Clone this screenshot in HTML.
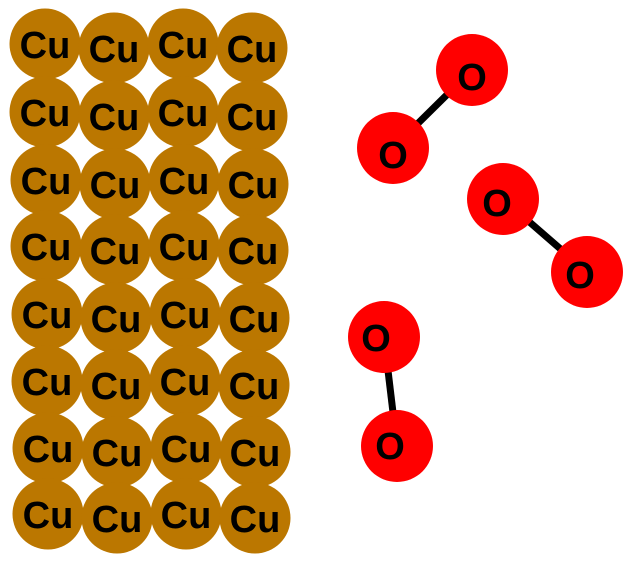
<!DOCTYPE html>
<html><head><style>body{margin:0;background:#fff}</style></head><body>
<svg width="633" height="563" xmlns="http://www.w3.org/2000/svg" font-family="Liberation Sans, Arial, sans-serif" font-weight="bold">
<g fill="#bb7700">
<circle cx="45" cy="44" r="35.5"/><circle cx="114" cy="48" r="35.5"/><circle cx="183" cy="44" r="35.5"/><circle cx="252" cy="48" r="35.5"/>
<circle cx="45" cy="112" r="35.5"/><circle cx="114" cy="116" r="35.5"/><circle cx="183" cy="112" r="35.5"/><circle cx="252" cy="116" r="35.5"/>
<circle cx="46" cy="180" r="35.5"/><circle cx="115" cy="184" r="35.5"/><circle cx="184" cy="180" r="35.5"/><circle cx="253" cy="184" r="35.5"/>
<circle cx="46" cy="246" r="35.5"/><circle cx="115" cy="250" r="35.5"/><circle cx="184" cy="246" r="35.5"/><circle cx="253" cy="250" r="35.5"/>
<circle cx="47" cy="314" r="35.5"/><circle cx="116" cy="318" r="35.5"/><circle cx="185" cy="314" r="35.5"/><circle cx="254" cy="318" r="35.5"/>
<circle cx="47" cy="381" r="35.5"/><circle cx="116" cy="385" r="35.5"/><circle cx="185" cy="381" r="35.5"/><circle cx="254" cy="385" r="35.5"/>
<circle cx="48" cy="448" r="35.5"/><circle cx="117" cy="452" r="35.5"/><circle cx="186" cy="448" r="35.5"/><circle cx="255" cy="452" r="35.5"/>
<circle cx="48" cy="514" r="35.5"/><circle cx="117" cy="518" r="35.5"/><circle cx="186" cy="514" r="35.5"/><circle cx="255" cy="518" r="35.5"/>
</g>
<g font-size="38" font-weight="bold" text-anchor="middle" fill="#000">
<text x="45" y="58">Cu</text><text x="114" y="62">Cu</text><text x="183" y="58">Cu</text><text x="252" y="62">Cu</text>
<text x="45" y="126">Cu</text><text x="114" y="130">Cu</text><text x="183" y="126">Cu</text><text x="252" y="130">Cu</text>
<text x="46" y="194">Cu</text><text x="115" y="198">Cu</text><text x="184" y="194">Cu</text><text x="253" y="198">Cu</text>
<text x="46" y="260">Cu</text><text x="115" y="264">Cu</text><text x="184" y="260">Cu</text><text x="253" y="264">Cu</text>
<text x="47" y="328">Cu</text><text x="116" y="332">Cu</text><text x="185" y="328">Cu</text><text x="254" y="332">Cu</text>
<text x="47" y="395">Cu</text><text x="116" y="399">Cu</text><text x="185" y="395">Cu</text><text x="254" y="399">Cu</text>
<text x="48" y="462">Cu</text><text x="117" y="466">Cu</text><text x="186" y="462">Cu</text><text x="255" y="466">Cu</text>
<text x="48" y="528">Cu</text><text x="117" y="532">Cu</text><text x="186" y="528">Cu</text><text x="255" y="532">Cu</text>
</g>
<g stroke="#000" stroke-width="7">
<line x1="472" y1="70" x2="393" y2="148"/>
<line x1="503" y1="199" x2="587" y2="272"/>
<line x1="384" y1="337" x2="397" y2="446"/>
</g>
<g fill="#ff0000">
<circle cx="472" cy="70" r="36"/><circle cx="393" cy="148" r="36"/>
<circle cx="503" cy="199" r="36"/><circle cx="587" cy="272" r="36"/>
<circle cx="384" cy="337" r="36"/><circle cx="397" cy="446" r="36"/>
</g>
<g font-size="38" font-weight="bold" text-anchor="middle" fill="#000">
<text x="472" y="90">O</text><text x="393" y="168">O</text>
<text x="497" y="216">O</text><text x="580" y="288">O</text>
<text x="376" y="351">O</text><text x="390" y="459">O</text>
</g>
</svg>
</body></html>
